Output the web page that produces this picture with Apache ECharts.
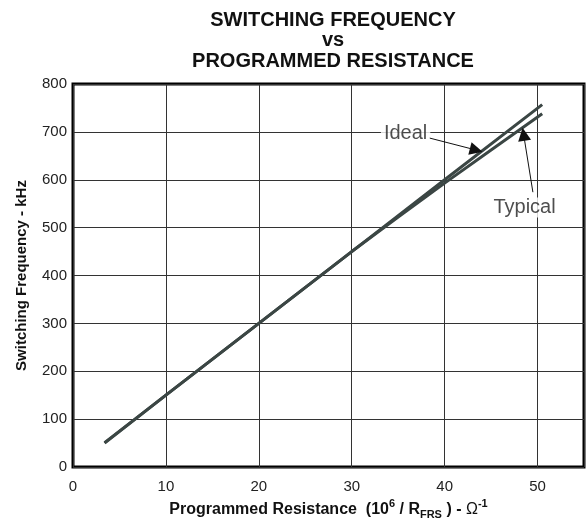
<!DOCTYPE html>
<html>
<head>
<meta charset="utf-8">
<script src="https://cdn.jsdelivr.net/npm/echarts@6/dist/echarts.min.js"></script>
<style>
html,body{margin:0;padding:0;background:#fff;}
#chart{width:587px;height:527px;}
</style>
</head>
<body>
<div id="chart"></div>
<script>
// Data
const idealX = [3.4, 10, 20, 30, 40, 50.5];
const idealY = [51, 150, 300, 450, 600, 757];
const typicalX = [3.4, 10, 20, 30, 35, 40, 45, 50.5];
const typicalY = [50, 150, 300, 450, 522, 593, 662, 738];
const xTicks = [0, 10, 20, 30, 40, 50];
const yTicks = [0, 100, 200, 300, 400, 500, 600, 700, 800];
const annotationText = ['Ideal', 'Typical'];
const annotationAt = [[35.8, 697], [48.6, 542]];
const arrowFrom = [[38.4, 687], [49.5, 574]];
const arrowTo = [[43.4, 662], [48.5, 695]];

const lineColor = '#3b4644';
const chart = echarts.init(document.getElementById('chart'), null, {renderer: 'canvas'});

const option = {
  backgroundColor: '#fff',
  animation: false,
  title: {
    text: 'SWITCHING FREQUENCY\nvs\nPROGRAMMED RESISTANCE',
    left: 328,
    top: 5,
    textAlign: 'center',
    textStyle: {
      fontFamily: 'Liberation Sans, Arial, sans-serif',
      fontWeight: 'bold',
      fontSize: 20,
      lineHeight: 20.5,
      color: '#111'
    }
  },
  grid: {
    left: 73, right: 2, top: 84, bottom: 60,
    show: true, borderColor: '#000', borderWidth: 3, backgroundColor: '#fff'
  },
  xAxis: {
    type: 'value', min: 0, max: 55, interval: 10,
    axisLine: {show: false}, axisTick: {show: false},
    splitLine: {show: true, lineStyle: {color: '#333', width: 1}},
    axisLabel: {
      fontFamily: 'Liberation Sans, Arial, sans-serif', fontSize: 15, color: '#222', margin: 12,
      formatter: v => xTicks.includes(v) ? String(v) : ''
    },
    name: '{b|Programmed Resistance  (10}{sup|6}{b| / R}{sub|FRS}{b| ) - }{om|Ω}{sup|-1}',
    nameLocation: 'middle', nameGap: 28,
    nameTextStyle: {
      fontFamily: 'Liberation Sans, Arial, sans-serif',
      rich: {
        b: {fontWeight: 'bold', fontSize: 16, color: '#111', lineHeight: 22},
        sup: {fontWeight: 'bold', fontSize: 11, color: '#111', lineHeight: 11, verticalAlign: 'top'},
        sub: {fontWeight: 'bold', fontSize: 11, color: '#111', lineHeight: 11, verticalAlign: 'bottom'},
        om: {fontWeight: 'normal', fontSize: 16, color: '#111', lineHeight: 22}
      }
    }
  },
  yAxis: {
    type: 'value', min: 0, max: 800, interval: 100,
    axisLine: {show: false}, axisTick: {show: false},
    splitLine: {show: true, lineStyle: {color: '#333', width: 1}},
    axisLabel: {
      fontFamily: 'Liberation Sans, Arial, sans-serif', fontSize: 15, color: '#222', margin: 6,
      formatter: v => yTicks.includes(v) ? String(v) : ''
    },
    name: 'Switching Frequency - kHz',
    nameLocation: 'middle', nameGap: 44,
    nameTextStyle: {
      fontFamily: 'Liberation Sans, Arial, sans-serif', fontWeight: 'bold', fontSize: 15, color: '#111'
    }
  },
  series: [
    {
      name: 'Ideal', type: 'line', symbol: 'none', z: 3,
      lineStyle: {color: lineColor, width: 3},
      data: idealX.map((x, i) => [x, idealY[i]])
    },
    {
      name: 'Typical', type: 'line', symbol: 'none', z: 3,
      lineStyle: {color: lineColor, width: 3},
      data: typicalX.map((x, i) => [x, typicalY[i]])
    },
    {
      name: 'annotations', type: 'scatter', symbolSize: 1, z: 4, silent: true,
      itemStyle: {color: 'rgba(0,0,0,0)'},
      label: {
        show: true, position: 'inside',
        formatter: p => p.value[2],
        fontFamily: 'Liberation Sans, Arial, sans-serif', fontSize: 20, color: '#222',
        backgroundColor: '#fff', padding: [0, 3]
      },
      data: annotationAt.map((c, i) => [c[0], c[1], annotationText[i]]),
      markLine: {
        silent: true, animation: false,
        symbol: ['none', 'triangle'], symbolSize: 13,
        label: {show: false},
        itemStyle: {color: '#111'},
        lineStyle: {color: '#111', width: 1, type: 'solid'},
        data: arrowFrom.map((f, i) => [{coord: f}, {coord: arrowTo[i]}])
      }
    }
  ]
};
chart.setOption(option);
</script>
</body>
</html>
